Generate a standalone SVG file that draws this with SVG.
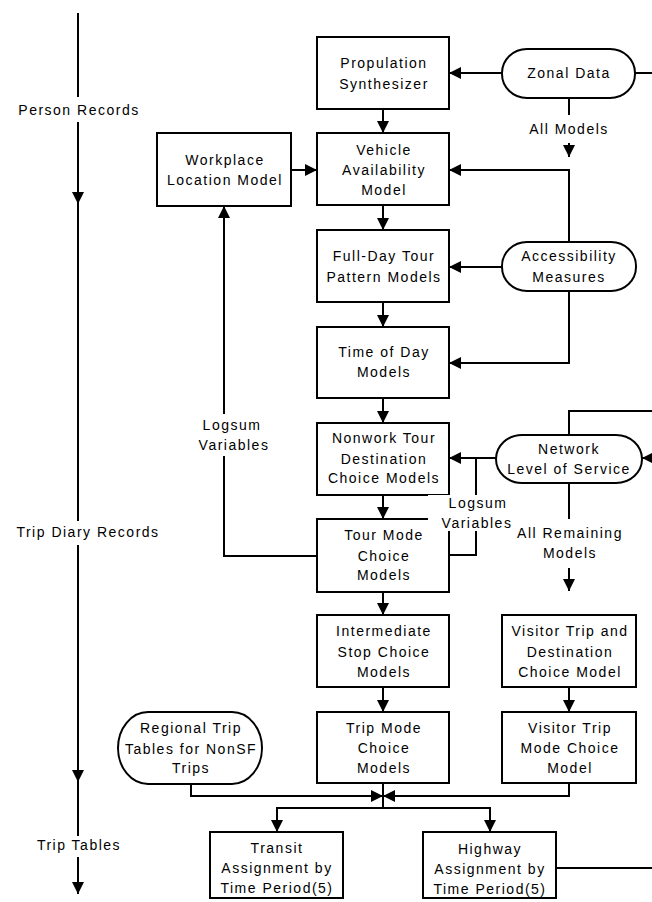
<svg xmlns="http://www.w3.org/2000/svg" width="652" height="902" viewBox="0 0 652 902">
<style>
.box{fill:#fff;stroke:#000;stroke-width:2}
.ln{fill:none;stroke:#000;stroke-width:2}
.ar{fill:none;stroke:#000;stroke-width:2;marker-end:url(#ah)}
text{font-family:"Liberation Sans",Arial,sans-serif;font-size:14px;letter-spacing:1.5px;fill:#000;text-anchor:middle}
.bg{fill:#fff;stroke:none}
</style>
<defs>
<marker id="ah" markerWidth="12" markerHeight="12" refX="12" refY="6" orient="auto" markerUnits="userSpaceOnUse">
<path d="M0,0 L12,6 L0,12 z" fill="#000"/>
</marker>
</defs>
<rect width="652" height="902" fill="#fff"/>
<g id="connectors">
<path class="ln" d="M78,13 L78,97"/>
<path class="ar" d="M78,122 L78,204"/>
<path class="ln" d="M78,204 L78,521"/>
<path class="ar" d="M78,545 L78,782"/>
<path class="ln" d="M78,782 L78,836"/>
<path class="ar" d="M78,857 L78,894"/>
<path class="ar" d="M502,73 L449,73"/>
<path class="ln" d="M635,73 L652,73"/>
<path class="ln" d="M569,98 L569,115"/>
<path class="ar" d="M569,143 L569,157"/>
<path class="ar" d="M569,242 L569,170 L449,170"/>
<path class="ar" d="M502,267 L449,267"/>
<path class="ar" d="M569,291 L569,363 L449,363"/>
<path class="ar" d="M383,109 L383,133"/>
<path class="ar" d="M383,205 L383,230"/>
<path class="ar" d="M383,302 L383,327"/>
<path class="ar" d="M383,398 L383,423"/>
<path class="ar" d="M383,495 L383,519"/>
<path class="ar" d="M383,592 L383,615"/>
<path class="ar" d="M383,687 L383,712"/>
<path class="ar" d="M291,170 L317,170"/>
<path class="ar" d="M317,556 L224,556 L224,206"/>
<path class="ln" d="M569,435 L569,411 L652,411"/>
<path class="ar" d="M652,458 L642,458"/>
<path class="ar" d="M496,458 L449,458"/>
<path class="ln" d="M476,458 L476,555 L449,555"/>
<path class="ln" d="M569,483 L569,519"/>
<path class="ar" d="M569,568 L569,591"/>
<path class="ar" d="M569,687 L569,712"/>
<path class="ar" d="M191,784 L191,796 L383,796"/>
<path class="ar" d="M569,783 L569,796 L383,796"/>
<path class="ln" d="M383,783 L383,808"/>
<path class="ar" d="M383,808 L277,808 L277,832"/>
<path class="ar" d="M383,808 L490,808 L490,832"/>
<path class="ln" d="M556,868 L652,868"/>
</g>
<g id="timeline-labels">
<text x="79" y="115">Person Records</text>
<text x="88" y="537">Trip Diary Records</text>
<text x="79" y="850">Trip Tables</text>
</g>
<g id="propulation">
<rect class="box" x="317" y="37" width="132" height="72"/>
<text x="384" y="68">Propulation</text>
<text x="384" y="89">Synthesizer</text>
</g>
<g id="zonal">
<rect class="box" x="502" y="49" width="133" height="49" rx="25" ry="24"/>
<text x="569" y="78">Zonal Data</text>
</g>
<g id="all-models">
<text x="569" y="134">All Models</text>
</g>
<g id="workplace">
<rect class="box" x="157" y="133" width="134" height="73"/>
<text x="225" y="165">Workplace</text>
<text x="225" y="185">Location Model</text>
</g>
<g id="vehicle">
<rect class="box" x="317" y="133" width="132" height="72"/>
<text x="384" y="155">Vehicle</text>
<text x="384" y="175">Availability</text>
<text x="384" y="195">Model</text>
</g>
<g id="fullday">
<rect class="box" x="317" y="230" width="132" height="72"/>
<text x="384" y="261">Full-Day Tour</text>
<text x="384" y="282">Pattern Models</text>
</g>
<g id="accessibility">
<rect class="box" x="502" y="242" width="134" height="49" rx="25" ry="24"/>
<text x="569" y="261">Accessibility</text>
<text x="569" y="282">Measures</text>
</g>
<g id="timeofday">
<rect class="box" x="317" y="327" width="132" height="71"/>
<text x="384" y="357">Time of Day</text>
<text x="384" y="377">Models</text>
</g>
<g id="nonwork">
<rect class="box" x="317" y="423" width="132" height="72"/>
<text x="384" y="443">Nonwork Tour</text>
<text x="384" y="464">Destination</text>
<text x="384" y="483">Choice Models</text>
</g>
<g id="network">
<rect class="box" x="496" y="435" width="146" height="48" rx="26" ry="24"/>
<text x="569" y="454">Network</text>
<text x="569" y="474">Level of Service</text>
</g>
<g id="tourmode">
<rect class="box" x="317" y="519" width="132" height="73"/>
<text x="384" y="540">Tour Mode</text>
<text x="384" y="561">Choice</text>
<text x="384" y="580">Models</text>
</g>
<g id="logsum-left">
<rect class="bg" x="196" y="414" width="74" height="42"/>
<text x="232" y="430">Logsum</text>
<text x="234" y="450">Variables</text>
</g>
<g id="logsum-right">
<rect class="bg" x="428" y="495" width="90" height="36"/>
<text x="478" y="508">Logsum</text>
<text x="477" y="528">Variables</text>
</g>
<g id="all-remaining">
<text x="570" y="538">All Remaining</text>
<text x="570" y="558">Models</text>
</g>
<g id="intermediate">
<rect class="box" x="317" y="615" width="132" height="72"/>
<text x="384" y="636">Intermediate</text>
<text x="384" y="657">Stop Choice</text>
<text x="384" y="677">Models</text>
</g>
<g id="visitor-dest">
<rect class="box" x="502" y="615" width="134" height="72"/>
<text x="570" y="636">Visitor Trip and</text>
<text x="570" y="657">Destination</text>
<text x="570" y="677">Choice Model</text>
</g>
<g id="regional">
<rect class="box" x="118" y="712" width="144" height="72" rx="30" ry="36"/>
<text x="191" y="733">Regional Trip</text>
<text x="191" y="754">Tables for NonSF</text>
<text x="191" y="773">Trips</text>
</g>
<g id="tripmode">
<rect class="box" x="317" y="712" width="132" height="71"/>
<text x="384" y="733">Trip Mode</text>
<text x="384" y="753">Choice</text>
<text x="384" y="773">Models</text>
</g>
<g id="visitor-mode">
<rect class="box" x="502" y="712" width="134" height="71"/>
<text x="570" y="733">Visitor Trip</text>
<text x="570" y="753">Mode Choice</text>
<text x="570" y="773">Model</text>
</g>
<g id="transit">
<rect class="box" x="210" y="832" width="133" height="66"/>
<text x="277" y="853">Transit</text>
<text x="277" y="873">Assignment by</text>
<text x="277" y="893">Time Period(5)</text>
</g>
<g id="highway">
<rect class="box" x="423" y="832" width="133" height="66"/>
<text x="490" y="854">Highway</text>
<text x="490" y="874">Assignment by</text>
<text x="490" y="894">Time Period(5)</text>
</g>
</svg>
